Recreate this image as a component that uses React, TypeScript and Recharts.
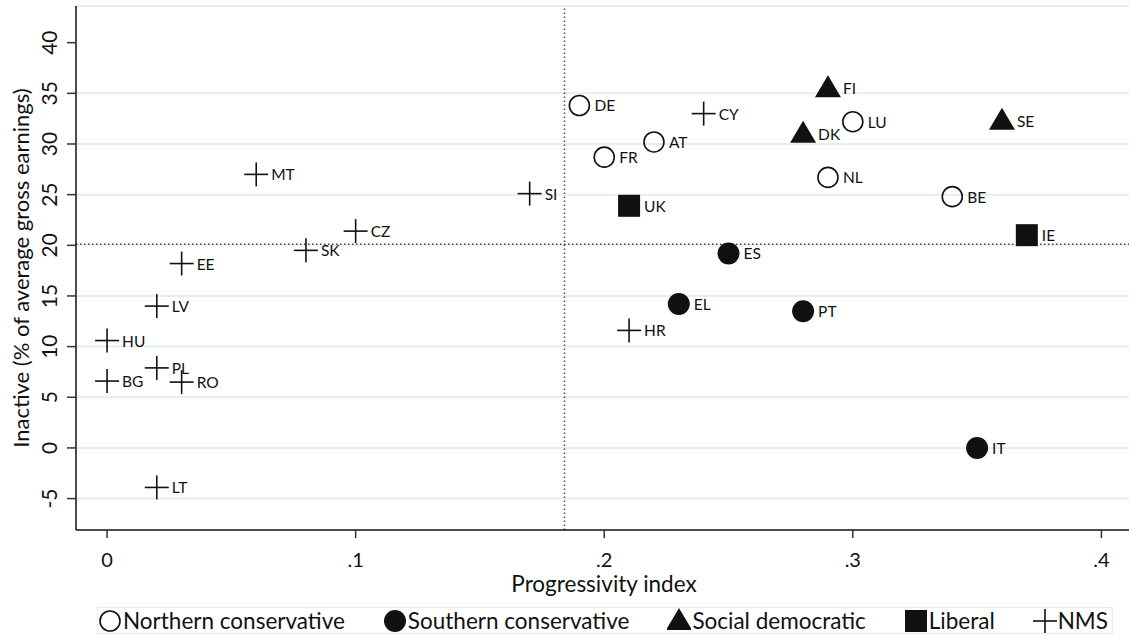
import React from 'react';
import { ScatterChart, Scatter, XAxis, YAxis, ReferenceLine, Label } from 'recharts';

const FONT = 'Lato, "DejaVu Sans", sans-serif';
const INK = '#111';

// regime groups: country codes, progressivity index, inactive (% of avg gross earnings)
const northernCodes = ['DE', 'FR', 'AT', 'LU', 'NL', 'BE'];
const northernX = [0.19, 0.2, 0.22, 0.3, 0.29, 0.34];
const northernY = [33.8, 28.7, 30.2, 32.2, 26.7, 24.8];

const southernCodes = ['ES', 'EL', 'PT', 'IT'];
const southernX = [0.25, 0.23, 0.28, 0.35];
const southernY = [19.2, 14.2, 13.5, 0.0];

const socdemCodes = ['FI', 'DK', 'SE'];
const socdemX = [0.29, 0.28, 0.36];
const socdemY = [35.5, 31.0, 32.3];

const liberalCodes = ['UK', 'IE'];
const liberalX = [0.21, 0.37];
const liberalY = [23.9, 21.0];

const nmsCodes = ['CY', 'SI', 'MT', 'CZ', 'SK', 'EE', 'LV', 'HU', 'PL', 'BG', 'RO', 'LT', 'HR'];
const nmsX = [0.24, 0.17, 0.06, 0.1, 0.08, 0.03, 0.02, 0.0, 0.02, 0.0, 0.03, 0.02, 0.21];
const nmsY = [33.0, 25.1, 27.0, 21.4, 19.5, 18.2, 14.0, 10.6, 7.9, 6.6, 6.5, -3.9, 11.6];

const xTicks = [0, 0.1, 0.2, 0.3, 0.4];
const yTicks = [-5, 0, 5, 10, 15, 20, 25, 30, 35, 40];
const gridLines = [-5, 0, 5, 10, 15, 20, 25, 30, 35];

const xMean = 0.184;
const yMean = 20.1;

// plot area runs past the right edge of the page (clipped), like the original
const X_DOMAIN = [-0.0125, 0.41553];
const Y_DOMAIN = [-8.1, 43.62];

const toRows = (codes: string[], xs: number[], ys: number[]) =>
  codes.map((code, i) => ({ code, x: xs[i], y: ys[i] }));

const northern = toRows(northernCodes, northernX, northernY);
const southern = toRows(southernCodes, southernX, southernY);
const socdem = toRows(socdemCodes, socdemX, socdemY);
const liberal = toRows(liberalCodes, liberalX, liberalY);
const nms = toRows(nmsCodes, nmsX, nmsY);

type Kind = 'hollow' | 'filled' | 'triangle' | 'square' | 'plus';

const Marker = ({ kind, cx, cy }: { kind: Kind; cx: number; cy: number }) => {
  switch (kind) {
    case 'hollow':
      return <circle cx={cx} cy={cy} r={10} fill="none" stroke={INK} strokeWidth={1.6} />;
    case 'filled':
      return <circle cx={cx} cy={cy} r={11} fill={INK} />;
    case 'triangle':
      return <polygon points={`${cx},${cy - 13} ${cx - 13},${cy + 9} ${cx + 13},${cy + 9}`} fill={INK} />;
    case 'square':
      return <rect x={cx - 11} y={cy - 11} width={22} height={22} fill={INK} />;
    default:
      return (
        <g stroke={INK} strokeWidth={1.6}>
          <line x1={cx - 12} y1={cy} x2={cx + 12} y2={cy} />
          <line x1={cx} y1={cy - 12} x2={cx} y2={cy + 12} />
        </g>
      );
  }
};

const makeShape = (kind: Kind) => (props: any) => {
  const { cx, cy, payload } = props;
  if (cx == null || cy == null) return <g />;
  return (
    <g>
      <Marker kind={kind} cx={cx} cy={cy} />
      <text x={cx + 15} y={cy} dominantBaseline="central" fontSize={15.5} fontFamily={FONT} fill={INK}>
        {payload.code}
      </text>
    </g>
  );
};

const YTick = (props: any) => {
  const { x, y, payload } = props;
  const tx = x - 16;
  return (
    <text x={tx} y={y} transform={`rotate(-90, ${tx}, ${y})`} textAnchor="middle" dominantBaseline="central"
      fontSize={21} fontFamily={FONT} fill={INK}>
      {payload.value}
    </text>
  );
};

const fmtX = (v: number) => (v === 0 ? '0' : String(v).replace(/^0/, ''));

const LegendIcon = ({ kind }: { kind: Kind }) => (
  <svg width={24} height={26} style={{ display: 'block' }}>
    <Marker kind={kind} cx={12} cy={13} />
  </svg>
);

const legendItems: { kind: Kind; label: string }[] = [
  { kind: 'hollow', label: 'Northern conservative' },
  { kind: 'filled', label: 'Southern conservative' },
  { kind: 'triangle', label: 'Social democratic' },
  { kind: 'square', label: 'Liberal' },
  { kind: 'plus', label: 'NMS' },
];

export default function App() {
  return (
    <div style={{ position: 'absolute', left: 0, top: 0, width: 1129, height: 636, background: '#fff', fontFamily: FONT, overflow: 'hidden' }}>
      <ScatterChart width={1140} height={636} margin={{ top: 6, right: 0, bottom: 56, left: 0 }}>
        <XAxis type="number" dataKey="x" domain={X_DOMAIN} ticks={xTicks} allowDataOverflow
          tickFormatter={fmtX} height={50} tickSize={8} tickMargin={15}
          axisLine={{ stroke: INK, strokeWidth: 1.5 }} tickLine={{ stroke: '#333', strokeWidth: 1.5 }}
          tick={{ fontSize: 20, fill: INK, fontFamily: FONT }}>
          <Label content={() => (
            <text x={604} y={583} textAnchor="middle" dominantBaseline="central"
              fontSize={22.5} fontFamily={FONT} fill={INK}>Progressivity index</text>
          )} />
        </XAxis>
        <YAxis type="number" dataKey="y" domain={Y_DOMAIN} ticks={yTicks} allowDataOverflow width={76}
          tickSize={9} tickMargin={2} tick={<YTick />}
          axisLine={{ stroke: INK, strokeWidth: 1.5 }} tickLine={{ stroke: '#333', strokeWidth: 1.5 }}>
          <Label content={(p: any) => {
            const vb = p.viewBox;
            const cy = vb.y + vb.height / 2;
            return (
              <text x={20} y={cy} transform={`rotate(-90, 20, ${cy})`} textAnchor="middle" dominantBaseline="central"
                fontSize={22} fontFamily={FONT} fill={INK}>Inactive (% of average gross earnings)</text>
            );
          }} />
        </YAxis>
        {[...gridLines, Y_DOMAIN[1]].map((v) => (
          <ReferenceLine key={v} y={v} stroke="#e6eef1" strokeWidth={2} />
        ))}
        <ReferenceLine x={xMean} stroke="#444" strokeWidth={1.5} strokeDasharray="1.5 2.5" />
        <ReferenceLine y={yMean} stroke="#444" strokeWidth={1.5} strokeDasharray="1.5 2.5" />
        <Scatter name="Northern conservative" data={northern} shape={makeShape('hollow')} isAnimationActive={false} />
        <Scatter name="Southern conservative" data={southern} shape={makeShape('filled')} isAnimationActive={false} />
        <Scatter name="Social democratic" data={socdem} shape={makeShape('triangle')} isAnimationActive={false} />
        <Scatter name="Liberal" data={liberal} shape={makeShape('square')} isAnimationActive={false} />
        <Scatter name="NMS" data={nms} shape={makeShape('plus')} isAnimationActive={false} />
      </ScatterChart>
      <div style={{
        position: 'absolute', left: 97, top: 607, width: 1016, height: 27, boxSizing: 'border-box',
        border: '1.5px solid #e6eef1', display: 'flex', alignItems: 'center', justifyContent: 'space-between',
        padding: '0 4px 0 0',
      }}>
        {legendItems.map((it) => (
          <div key={it.label} style={{ display: 'flex', alignItems: 'center', gap: 1 }}>
            <LegendIcon kind={it.kind} />
            <span style={{ fontSize: 22.5, color: INK, lineHeight: '26px' }}>{it.label}</span>
          </div>
        ))}
      </div>
    </div>
  );
}
